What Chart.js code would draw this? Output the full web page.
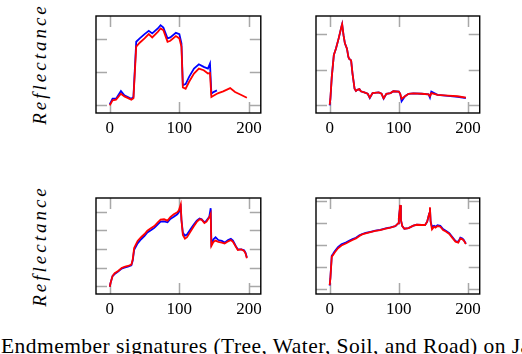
<!DOCTYPE html>
<html>
<head>
<meta charset="utf-8">
<script src="https://cdn.jsdelivr.net/npm/chart.js@4/dist/chart.umd.min.js"></script>
<style>
  body { margin: 0; width: 522px; height: 354px; overflow: hidden; background: #fff; font-family: "Liberation Serif", serif; position: relative; }
  canvas { position: absolute; }
  .ylab { position: absolute; width: 150px; text-align: center; transform: rotate(-90deg); font-family: "Liberation Serif", serif; font-style: italic; font-size: 19px; letter-spacing: 3px; line-height: 20px; white-space: nowrap; }
  .caption { position: absolute; left: 1px; top: 336px; font-size: 21.5px; letter-spacing: 0.45px; line-height: 21.5px; white-space: nowrap; }
</style>
</head>
<body>
<canvas id="tree" width="175" height="127" style="left:92px;top:12px"></canvas>
<canvas id="water" width="174" height="127" style="left:312px;top:12px"></canvas>
<canvas id="soil" width="175" height="126" style="left:92px;top:194px"></canvas>
<canvas id="road" width="174" height="126" style="left:312px;top:194px"></canvas>
<div class="ylab" style="left:-35px;top:54px">Reflectance</div>
<div class="ylab" style="left:-35px;top:236px">Reflectance</div>
<div class="caption">Endmember signatures (Tree, Water, Soil, and Road) on Jasper Ridge</div>
<script>
// band index (x) and reflectance values
const xTicks = [0, 100, 200];

const treeBands = [0, 4, 9, 16, 21, 31, 34, 38, 43, 50, 56, 61, 69, 73, 77, 83, 87, 95, 100, 103, 105, 109, 114, 121, 128, 135, 141, 144, 146, 149, 154, 156, 163, 173, 180, 189, 197];
const treeBlue = [0.102, 0.119, 0.119, 0.142, 0.129, 0.119, 0.124, 0.291, 0.301, 0.314, 0.324, 0.316, 0.331, 0.341, 0.334, 0.301, 0.304, 0.318, 0.314, 0.286, 0.160, 0.163, 0.185, 0.210, 0.223, 0.215, 0.210, 0.225, 0.134, 0.139, 0.144, null, null, null, null, null, null];
const treeRed = [0.099, 0.114, 0.116, 0.134, 0.126, 0.116, 0.120, 0.276, 0.288, 0.301, 0.314, 0.304, 0.321, 0.331, 0.326, 0.291, 0.294, 0.308, 0.301, 0.276, 0.153, 0.149, 0.170, 0.195, 0.210, 0.205, 0.195, 0.197, 0.124, 0.128, 0.134, 0.136, 0.141, 0.151, 0.139, 0.130, 0.122];
const treeTicks = [0.1, 0.2, 0.3];

const waterBands = [0, 1, 3, 6, 9, 13, 17, 18, 20, 22, 25, 27, 28, 31, 33, 36, 38, 40, 43, 45, 50, 55, 58, 62, 71, 75, 78, 82, 88, 92, 100, 102, 104, 109, 114, 121, 133, 143, 145, 147, 156, 171, 185, 197];
const waterBlue = [-0.001, 0.016, 0.079, 0.141, 0.159, 0.188, 0.221, 0.228, 0.197, 0.174, 0.159, 0.136, 0.131, 0.126, 0.089, 0.046, 0.040, 0.043, 0.045, 0.039, 0.036, 0.032, 0.020, 0.034, 0.036, 0.032, 0.018, 0.032, 0.034, 0.039, 0.038, 0.032, 0.011, 0.025, 0.032, 0.033, 0.032, 0.030, 0.021, 0.038, 0.029, 0.026, 0.023, 0.020];
const waterRed = [0.001, 0.018, 0.079, 0.141, 0.159, 0.188, 0.221, 0.228, 0.197, 0.174, 0.159, 0.136, 0.131, 0.126, 0.089, 0.046, 0.040, 0.043, 0.045, 0.039, 0.036, 0.032, 0.021, 0.034, 0.036, 0.032, 0.019, 0.032, 0.034, 0.039, 0.038, 0.032, 0.018, 0.025, 0.032, 0.033, 0.032, 0.030, 0.025, 0.034, 0.029, 0.027, 0.025, 0.021];
const waterTicks = [0, 0.1, 0.2];

const soilBands = [0, 1, 4, 7, 12, 17, 21, 26, 31, 33, 35, 40, 45, 50, 54, 59, 64, 69, 73, 78, 83, 87, 92, 97, 99, 102, 103, 105, 108, 111, 116, 121, 125, 129, 132, 136, 139, 143, 145, 146, 149, 152, 156, 161, 165, 170, 174, 177, 181, 184, 189, 193, 195, 197];
const soilBlue = [0.098, 0.116, 0.155, 0.166, 0.179, 0.195, 0.200, 0.205, 0.213, 0.238, 0.295, 0.330, 0.352, 0.370, 0.388, 0.400, 0.413, 0.432, 0.446, 0.448, 0.443, 0.461, 0.473, 0.486, 0.495, 0.523, 0.455, 0.388, 0.371, 0.377, 0.405, 0.432, 0.452, 0.463, 0.459, 0.443, 0.452, 0.473, 0.518, 0.327, 0.352, 0.363, 0.348, 0.343, 0.334, 0.348, 0.355, 0.345, 0.316, 0.298, 0.298, 0.293, 0.280, 0.254];
const soilRed = [0.098, 0.116, 0.155, 0.170, 0.182, 0.198, 0.204, 0.209, 0.216, 0.245, 0.305, 0.343, 0.363, 0.380, 0.398, 0.411, 0.423, 0.443, 0.457, 0.459, 0.452, 0.471, 0.486, 0.496, 0.505, 0.539, 0.455, 0.375, 0.355, 0.363, 0.393, 0.423, 0.445, 0.459, 0.457, 0.439, 0.446, 0.470, 0.488, 0.316, 0.338, 0.345, 0.338, 0.334, 0.329, 0.341, 0.348, 0.338, 0.313, 0.295, 0.298, 0.289, 0.277, 0.250];
const soilTicks = [0.1, 0.2, 0.3, 0.4, 0.5];

const roadBands = [0, 1, 3, 5, 7, 12, 17, 24, 28, 33, 38, 43, 47, 52, 59, 66, 73, 81, 88, 95, 99, 100, 102, 103, 105, 108, 114, 121, 126, 133, 138, 141, 144, 145, 146, 148, 151, 153, 156, 160, 164, 168, 173, 178, 182, 186, 189, 192, 194, 197];
const roadBlue = [0.116, 0.150, 0.251, 0.260, 0.270, 0.290, 0.303, 0.312, 0.319, 0.327, 0.333, 0.344, 0.350, 0.355, 0.360, 0.365, 0.369, 0.375, 0.380, 0.386, 0.398, 0.421, 0.480, 0.414, 0.386, 0.374, 0.377, 0.388, 0.392, 0.391, 0.391, 0.406, 0.444, 0.468, 0.406, 0.383, 0.387, 0.383, 0.390, 0.387, 0.372, 0.365, 0.354, 0.334, 0.318, 0.314, 0.333, 0.329, 0.322, 0.306];
const roadRed = [0.118, 0.148, 0.247, 0.255, 0.265, 0.285, 0.298, 0.308, 0.315, 0.323, 0.330, 0.341, 0.348, 0.353, 0.359, 0.364, 0.368, 0.374, 0.379, 0.386, 0.398, 0.421, 0.482, 0.414, 0.386, 0.374, 0.377, 0.388, 0.392, 0.391, 0.391, 0.406, 0.444, 0.471, 0.406, 0.371, 0.383, 0.379, 0.386, 0.383, 0.368, 0.361, 0.350, 0.330, 0.315, 0.311, 0.330, 0.326, 0.320, 0.305];
const roadTicks = [0.1, 0.2, 0.3, 0.4, 0.5];

const TICK_LEN = 11;

// pgfplots-like box with inward ticks on all four sides
const framePlugin = {
    id: 'frame',
    beforeDatasetsDraw(chart) {
        const { ctx, chartArea: a, scales: { x, y } } = chart;
        ctx.save();
        ctx.strokeStyle = '#a8a8a8';
        ctx.lineWidth = 1.5;
        ctx.beginPath();
        x.ticks.forEach(t => {
            const px = Math.round(x.getPixelForValue(t.value)) + 0.5;
            ctx.moveTo(px, a.top); ctx.lineTo(px, a.top + TICK_LEN);
            ctx.moveTo(px, a.bottom); ctx.lineTo(px, a.bottom - TICK_LEN);
        });
        y.ticks.forEach(t => {
            const py = Math.round(y.getPixelForValue(t.value)) + 0.5;
            ctx.moveTo(a.left, py); ctx.lineTo(a.left + TICK_LEN, py);
            ctx.moveTo(a.right, py); ctx.lineTo(a.right - TICK_LEN, py);
        });
        ctx.stroke();
        ctx.restore();
    },
    afterDraw(chart) {
        const { ctx, chartArea: a } = chart;
        ctx.save();
        ctx.strokeStyle = '#000';
        ctx.lineWidth = 1.4;
        ctx.strokeRect(a.left, a.top, a.right - a.left, a.bottom - a.top);
        ctx.restore();
    }
};

function points(bands, values) {
    return bands.map((b, i) => ({ x: b, y: values[i] }));
}

function makePanel(id, bands, blue, red, yTicks, yMin, yMax) {
    new Chart(document.getElementById(id), {
        type: 'line',
        data: {
            datasets: [
                { data: points(bands, blue), borderColor: 'rgb(0,0,255)', order: 1 },
                { data: points(bands, red), borderColor: 'rgb(255,0,0)', order: 0 }
            ]
        },
        options: {
            responsive: false,
            animation: false,
            devicePixelRatio: 1,
            layout: { padding: { left: 4, right: 4, top: 4, bottom: 0 } },
            elements: {
                line: { borderWidth: 1.8, tension: 0, fill: false },
                point: { radius: 0 }
            },
            plugins: { legend: { display: false }, tooltip: { enabled: false } },
            scales: {
                x: {
                    type: 'linear',
                    min: -19.8,
                    max: 217,
                    afterBuildTicks: s => { s.ticks = xTicks.map(v => ({ value: v })); },
                    afterFit: s => { s.height = 26; },
                    ticks: {
                        color: '#000',
                        padding: 5,
                        maxRotation: 0,
                        font: { family: "'Liberation Serif', serif", size: 17 }
                    },
                    grid: { display: false, drawTicks: false },
                    border: { display: false }
                },
                y: {
                    type: 'linear',
                    min: yMin,
                    max: yMax,
                    afterBuildTicks: s => { s.ticks = yTicks.map(v => ({ value: v })); },
                    afterFit: s => { s.width = 0; },
                    ticks: { display: false },
                    grid: { display: false, drawTicks: false },
                    border: { display: false }
                }
            }
        },
        plugins: [framePlugin]
    });
}

makePanel('tree', treeBands, treeBlue, treeRed, treeTicks, 0.0758, 0.3687);
makePanel('water', waterBands, waterBlue, waterRed, waterTicks, -0.0222, 0.251);
makePanel('soil', soilBands, soilBlue, soilRed, soilTicks, 0.0589, 0.573);
makePanel('road', roadBands, roadBlue, roadRed, roadTicks, 0.0773, 0.5136);
</script>
</body>
</html>
